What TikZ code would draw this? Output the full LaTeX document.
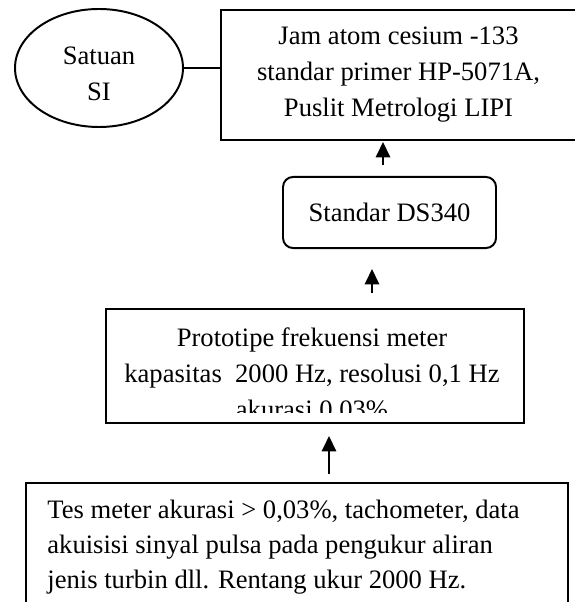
\documentclass[tikz,border=0pt]{standalone}
\usepackage{fontspec}
\setmainfont{Liberation Serif}
\usetikzlibrary{arrows.meta,shapes.geometric}
\begin{document}
\begin{tikzpicture}[x=0.4587pt,y=-0.4587pt,
  box/.style={draw,line width=0.9pt,inner sep=0pt},
  txt/.style={font=\fontsize{12.2}{16.5}\selectfont,align=center,inner sep=0pt},
  uparrow/.style={line width=1.1pt,-{Triangle[length=7pt,width=6.5pt]}}]
\useasboundingbox (0,0) rectangle (574,602);
% ellipse
\node[box,ellipse,minimum width=77.06pt,minimum height=54.13pt] (e) at (99,68) {};
\node[txt] (et) at (99,74) {Satuan\\SI};
% top box
\node[box,txt,minimum width=162.8pt,minimum height=59.6pt] (t) at (398.5,75)
  {Jam atom cesium -133\\standar primer HP-5071A,\\Puslit Metrologi LIPI};
\draw[line width=0.9pt] (e.east) -- (e.east -| t.west);
% rounded box
\node[box,txt,rounded corners=4.6pt,minimum width=97.7pt,minimum height=32.6pt] (r) at (389.5,212.5) {Standar DS340};
% prototype box (text clipped)
\begin{scope}
\clip (106,309) rectangle (524,412);
\node[txt] (pt) at (312,373) {Prototipe frekuensi meter\\kapasitas\ \ 2000 Hz, resolusi 0,1 Hz\\akurasi 0.03\%};
\end{scope}
\node[box,minimum width=191.7pt,minimum height=52.3pt] (p) at (315,366) {};
% bottom box
\node[box,minimum width=248.6pt,minimum height=68.8pt] (b) at (297,558) {};
\node[font=\fontsize{12.2}{16.05}\selectfont,align=left,inner sep=0pt,anchor=base west] (bt) at (47,588)
  {Tes meter akurasi > 0,03\%, tachometer, data\\akuisisi sinyal pulsa pada pengukur aliran\\jenis turbin dll. Rentang ukur 2000 Hz.};
% arrows
\coordinate (a1s) at (383,165); \coordinate (a1e) at (383,142);
\coordinate (a2s) at (372,293); \coordinate (a2e) at (372,269);
\coordinate (a3s) at (329,474); \coordinate (a3e) at (329,436);
\draw[uparrow] (a1s) -- (a1e);
\draw[uparrow] (a2s) -- (a2e);
\draw[uparrow] (a3s) -- (a3e);
\end{tikzpicture}
\end{document}
